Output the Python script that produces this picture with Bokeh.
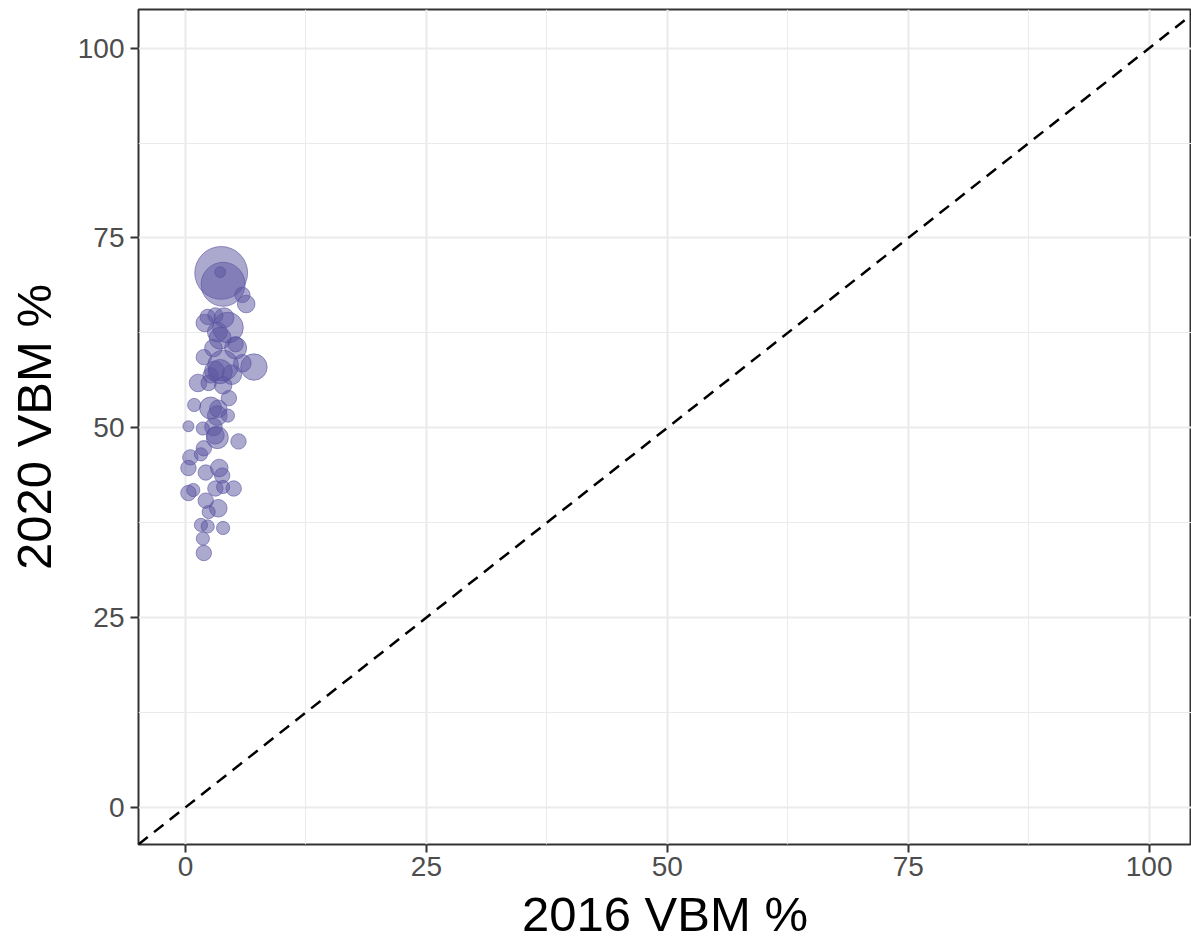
import numpy as np
from bokeh.plotting import figure
from bokeh.models import FixedTicker, Slope, ColumnDataSource, Range1d
from bokeh.embed import file_html
from bokeh.resources import INLINE

# 2016 vs 2020 vote-by-mail share per county
vbm_2016 = [3.7, 3.9, 3.6, 5.9, 6.3, 2.3, 3.1, 4.4, 3.6, 3.3,
            1.9, 3.9, 7.1, 5.9, 2.6, 1.3, 2.4, 3.9, 4.5, 0.9,
            2.6, 3.3, 4.4, 0.3, 1.8, 2.9, 3.1, 3.3, 5.5, 1.9,
            0.5, 1.6, 0.3, 2.1, 3.5, 3.8, 3.1, 3.9, 5.0, 0.8,
            0.3, 2.1, 3.4, 2.4, 1.6, 2.3, 3.9, 1.8, 1.9, 5.2,
            3.0, 4.8, 3.4, 5.2, 2.9, 4.0, 3.6, 2.0]
vbm_2020 = [70.4, 68.9, 70.5, 67.5, 66.3, 64.6, 64.8, 63.2, 61.8, 62.6,
            59.3, 58.2, 58.0, 58.5, 56.9, 55.9, 55.9, 55.6, 53.9, 53.0,
            52.6, 51.6, 51.6, 50.2, 49.9, 50.1, 49.0, 48.7, 48.2, 47.3,
            46.1, 46.5, 44.7, 44.1, 44.7, 43.7, 42.0, 42.2, 42.0, 41.8,
            41.4, 40.4, 39.4, 38.9, 37.2, 37.0, 36.8, 35.4, 33.5, 60.5,
            57.5, 57.0, 52.5, 61.0, 60.5, 64.5, 57.4, 63.8]
# relative county size (voters, arbitrary units)
county_size = [576, 400, 25, 49, 64, 49, 49, 196, 100, 81,
               49, 196, 144, 64, 49, 64, 49, 64, 49, 36,
               100, 81, 36, 25, 36, 64, 64, 100, 49, 49,
               49, 36, 49, 49, 64, 49, 49, 36, 49, 36,
               49, 49, 64, 36, 36, 36, 36, 36, 49, 100,
               81, 81, 64, 49, 64, 81, 121, 64]

x_ticks = [0, 25, 50, 75, 100]
y_ticks = [0, 25, 50, 75, 100]
minor = [-12.5, 12.5, 37.5, 62.5, 87.5, 112.5]

diam = [2.2 * np.sqrt(s) for s in county_size]
src = ColumnDataSource(dict(x=vbm_2016, y=vbm_2020, d=diam))

p = figure(width=1191, height=945, output_backend="svg", toolbar_location=None,
           x_range=Range1d(-4.88, 104.4), y_range=Range1d(-4.9, 105.1),
           min_border_left=138, min_border_right=0, min_border_top=9,
           min_border_bottom=101)

p.background_fill_color = "white"
p.border_fill_color = "white"
p.outline_line_color = "#333333"
p.outline_line_width = 2

for ax, ticks in ((p.xaxis[0], x_ticks), (p.yaxis[0], y_ticks)):
    ax.ticker = FixedTicker(ticks=ticks, minor_ticks=minor)
    ax.axis_line_color = None
    ax.major_tick_line_color = "#333333"
    ax.major_tick_line_width = 2
    ax.major_tick_out = 8
    ax.major_tick_in = 0
    ax.minor_tick_line_color = None
    ax.major_label_text_font = "Liberation Sans"
    ax.major_label_text_font_size = "28px"
    ax.major_label_text_color = "#4D4D4D"
    ax.axis_label_text_font = "Liberation Sans"
    ax.axis_label_text_font_size = "49px"
    ax.axis_label_text_font_style = "normal"
    ax.axis_label_text_color = "black"

p.xaxis.axis_label = "2016 VBM %"
p.yaxis.axis_label = "2020 VBM %"
p.xaxis.major_label_standoff = 4
p.yaxis.major_label_standoff = 6
p.xaxis.axis_label_standoff = 8
p.yaxis.axis_label_standoff = 14

for g in (p.xgrid[0], p.ygrid[0]):
    g.grid_line_color = "#EBEBEB"
    g.grid_line_width = 2.2
    g.minor_grid_line_color = "#EBEBEB"
    g.minor_grid_line_width = 1.1

p.add_layout(Slope(gradient=1, y_intercept=0, line_color="black",
                   line_width=2.5, line_dash="12 8"))

p.scatter("x", "y", size="d", source=src, marker="circle",
          fill_color="#5A53A0", fill_alpha=0.5,
          line_color="#5A53A0", line_alpha=0.6, line_width=1)

open("out.html", "w").write(file_html(p, INLINE))
